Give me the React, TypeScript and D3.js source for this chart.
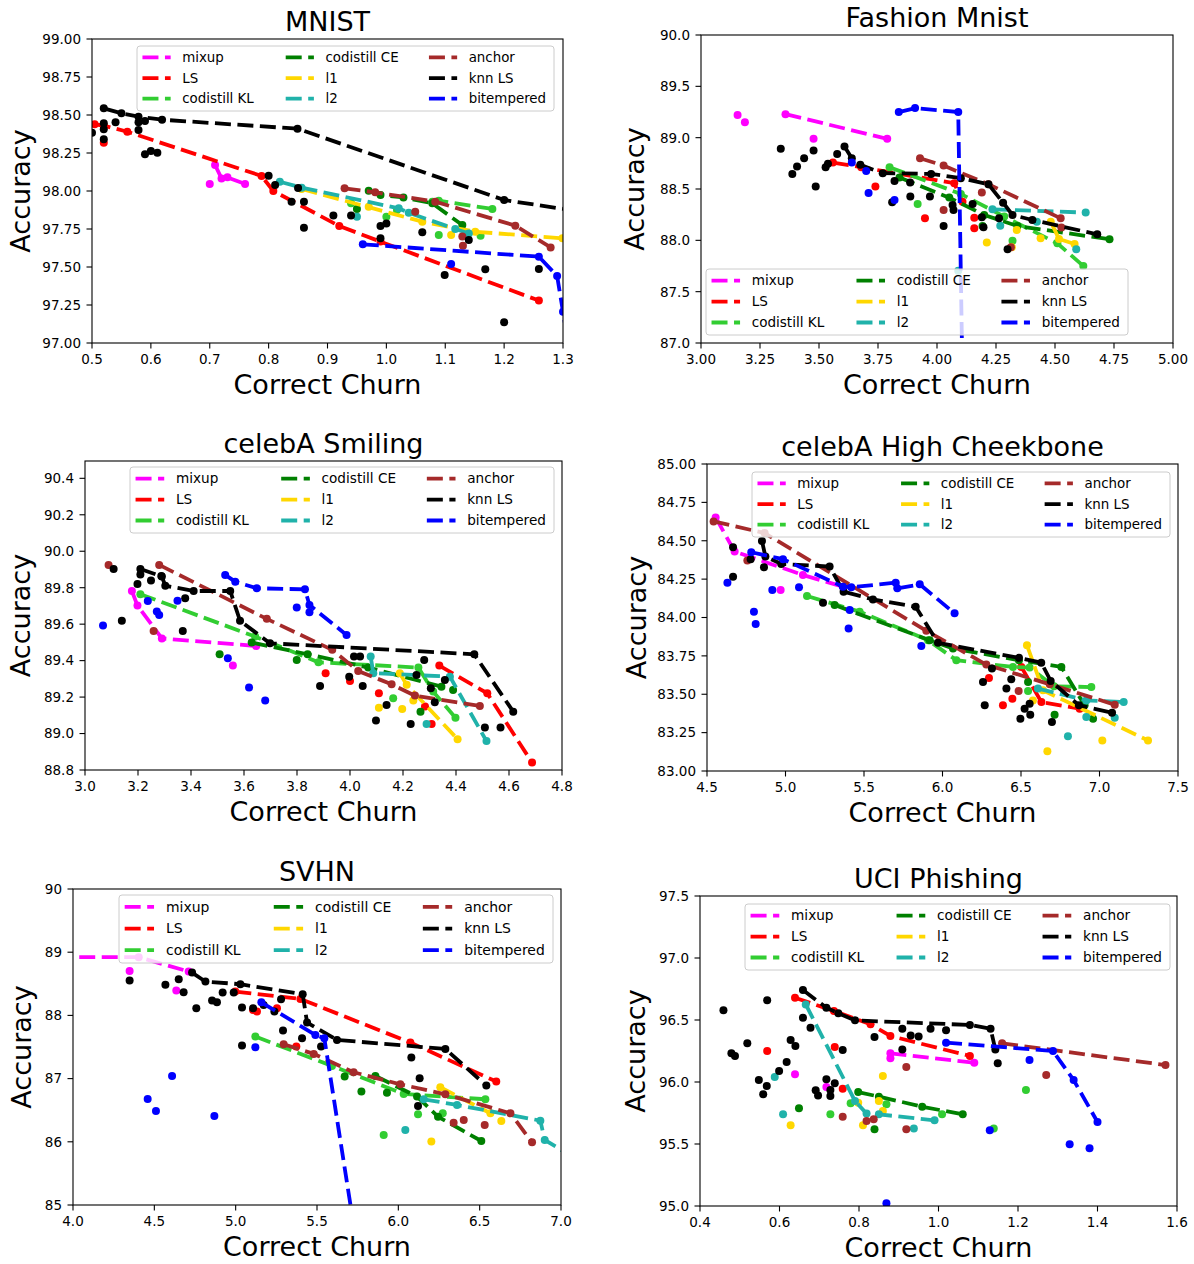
import React from "react"
import * as d3 from "d3"

type Pt = [number, number]
type Series = [string, Pt[]]

// legend order (column-major, 3 rows) and matplotlib named colours
const METHODS = ["mixup", "LS", "codistill KL", "codistill CE", "l1", "l2", "anchor", "knn LS", "bitempered"]
const COLORS = ["#ff00ff", "#ff0000", "#32cd32", "#008000", "#ffd700", "#20b2aa", "#a52a2a", "#000000", "#0000ff"]

// ---------------- MNIST ----------------
const mnistLines: Series[] = [
  ["mixup", [[0.709, 98.171], [0.72, 98.083], [0.73, 98.09], [0.76, 98.046]]],
  ["LS", [[0.5045, 98.439], [0.52, 98.43], [0.56, 98.39], [0.788, 98.099], [0.808, 98.0], [0.92, 97.77], [0.99, 97.667], [1.259, 97.279]]],
  ["codistill KL", [[1.078, 97.93], [1.089, 97.936], [1.18, 97.882]]],
  ["codistill CE", [[0.97, 98.002], [0.99, 97.974], [1.029, 97.958], [1.078, 97.919], [1.129, 97.776]]],
  ["l1", [[0.856, 98.013], [1.061, 97.798], [1.151, 97.732], [1.299, 97.689]]],
  ["l2", [[0.819, 98.061], [0.856, 98.022], [1.021, 97.886], [1.038, 97.857], [1.117, 97.75], [1.14, 97.721]]],
  ["anchor", [[0.929, 98.018], [0.981, 97.991], [1.083, 97.93], [1.219, 97.772], [1.279, 97.629]]],
  ["knn LS", [[0.52, 98.544], [0.55, 98.511], [0.579, 98.489], [0.619, 98.469], [0.849, 98.41], [1.2, 97.941], [1.33, 97.865]]],
  ["bitempered", [[0.96, 97.649], [1.259, 97.568], [1.29, 97.441], [1.3, 97.206], [1.31, 96.97]]],
]
const mnistDots: Series[] = [
  ["mixup", [[0.7, 98.046]]],
  ["LS", [[0.52, 98.318]]],
  ["codistill KL", [[0.94, 97.919], [1.0, 97.831], [1.018, 97.875], [1.089, 97.711], [1.16, 97.706]]],
  ["codistill CE", [[0.95, 97.882]]],
  ["l1", [[0.97, 97.897], [1.11, 97.711]]],
  ["l2", [[0.95, 97.831]]],
  ["anchor", [[1.129, 97.7], [1.13, 97.64], [1.049, 97.864]]],
  ["knn LS", [[0.5, 98.384], [0.52, 98.445], [0.52, 98.406], [0.52, 98.34], [0.54, 98.452], [0.579, 98.452], [0.579, 98.401],
    [0.59, 98.461], [0.59, 98.241], [0.6, 98.263], [0.611, 98.252], [0.8, 98.101], [0.811, 98.039], [0.85, 98.02], [0.839, 97.93],
    [0.86, 97.93], [0.86, 97.759], [0.91, 97.838], [0.94, 97.838], [0.99, 97.77], [1.0, 97.787], [0.99, 97.689], [1.061, 97.728],
    [1.099, 97.447], [1.168, 97.485], [1.14, 97.678], [1.2, 97.136], [1.259, 97.487]]],
  ["bitempered", [[1.11, 97.52]]],
]

// ---------------- Fashion Mnist ----------------
const fashionLines: Series[] = [
  ["mixup", [[3.358, 89.229], [3.789, 88.989]]],
  ["LS", [[3.559, 88.758], [3.679, 88.712], [4.073, 88.556], [4.108, 88.377]]],
  ["codistill KL", [[3.799, 88.712], [4.101, 88.452], [4.285, 88.231], [4.51, 87.971], [4.62, 87.75]]],
  ["codistill CE", [[3.841, 88.611], [4.052, 88.416], [4.2, 88.247], [4.341, 88.14], [4.731, 88.01]]],
  ["l1", [[4.482, 88.182], [4.517, 88.013], [4.583, 87.964]]],
  ["l2", [[4.235, 88.302], [4.63, 88.27]]],
  ["anchor", [[3.928, 88.8], [4.028, 88.728], [4.218, 88.546], [4.524, 88.215]]],
  ["knn LS", [[3.608, 88.914], [3.639, 88.8], [3.675, 88.735], [3.77, 88.654], [3.975, 88.647], [4.101, 88.605], [4.218, 88.546],
    [4.28, 88.367], [4.32, 88.247], [4.404, 88.198], [4.679, 88.059]]],
  ["bitempered", [[3.838, 89.249], [3.907, 89.288], [4.09, 89.249], [4.107, 86.8]]],
]
const fashionDots: Series[] = [
  ["mixup", [[3.155, 89.22], [3.186, 89.151], [3.477, 88.989]]],
  ["LS", [[3.739, 88.524], [3.949, 88.215], [4.158, 88.221], [4.158, 88.117]]],
  ["codistill KL", [[3.918, 88.354], [4.32, 87.997]]],
  ["codistill CE", [[4.193, 88.14]]],
  ["l1", [[4.211, 87.98], [4.338, 88.101], [4.439, 88.02], [4.317, 87.932]]],
  ["l2", [[4.268, 88.143], [4.423, 88.182], [4.59, 87.912], [4.09, 87.704]]],
  ["anchor", [[4.19, 88.465], [4.028, 88.296], [4.527, 88.124], [4.313, 87.932]]],
  ["knn LS", [[3.338, 88.891], [3.387, 88.647], [3.407, 88.719], [3.437, 88.8], [3.477, 88.875], [3.486, 88.524], [3.528, 88.712],
    [3.538, 88.745], [3.577, 88.842], [3.81, 88.371], [3.82, 88.579], [3.887, 88.426], [3.97, 88.426], [3.886, 88.563],
    [4.028, 88.14], [4.07, 88.296], [4.066, 88.345], [4.151, 88.354], [4.19, 88.224], [4.197, 88.127], [4.299, 87.912], [4.263, 88.215]]],
  ["bitempered", [[3.639, 88.758], [3.7, 88.676], [3.71, 88.462], [3.82, 88.393]]],
]

// ---------------- celebA Smiling ----------------
const smilingLines: Series[] = [
  ["mixup", [[3.177, 89.782], [3.198, 89.702], [3.29, 89.522], [3.646, 89.48]]],
  ["LS", [[4.337, 89.373], [4.518, 89.221], [4.687, 88.841]]],
  ["codistill KL", [[3.209, 89.764], [3.642, 89.532], [3.881, 89.391], [4.258, 89.362], [4.314, 89.23], [4.398, 89.087]]],
  ["codistill CE", [[3.629, 89.499], [3.84, 89.435], [4.069, 89.362], [4.345, 89.257]]],
  ["l1", [[4.188, 89.331], [4.214, 89.267], [4.406, 88.969]]],
  ["l2", [[4.078, 89.422], [4.088, 89.331], [4.377, 89.312], [4.515, 88.959]]],
  ["anchor", [[3.28, 89.925], [3.686, 89.629], [3.933, 89.459], [4.031, 89.343], [4.157, 89.27], [4.245, 89.208], [4.49, 89.151]]],
  ["knn LS", [[3.209, 89.903], [3.29, 89.861], [3.303, 89.811], [3.41, 89.782], [3.548, 89.782], [3.585, 89.619], [3.698, 89.495],
    [4.469, 89.435], [4.616, 89.12]]],
  ["bitempered", [[3.529, 89.87], [3.567, 89.833], [3.648, 89.797], [3.83, 89.791], [3.847, 89.705], [3.987, 89.541]]],
]
const smilingDots: Series[] = [
  ["mixup", [[3.558, 89.373]]],
  ["LS", [[3.908, 89.331], [4.0, 89.288], [4.109, 89.221], [4.283, 89.148], [4.308, 89.053]]],
  ["codistill KL", [[4.163, 89.193]]],
  ["codistill CE", [[3.508, 89.435], [3.799, 89.404], [4.389, 89.239], [4.266, 89.12]]],
  ["l1", [[4.109, 89.142], [4.197, 89.135], [4.239, 89.181]]],
  ["l2", [[4.289, 89.053]]],
  ["anchor", [[3.089, 89.925], [3.259, 89.563]]],
  ["knn LS", [[3.108, 89.903], [3.139, 89.619], [3.198, 89.82], [3.209, 89.873], [3.249, 89.839], [3.288, 89.864], [3.378, 89.742],
    [3.369, 89.563], [3.887, 89.261], [3.997, 89.312], [4.015, 89.422], [4.038, 89.422], [4.048, 89.261], [4.098, 89.071],
    [4.138, 89.157], [4.229, 89.053], [4.28, 89.404], [4.251, 89.321], [4.305, 89.248], [4.32, 89.171], [4.358, 89.294],
    [4.509, 89.033], [4.568, 89.033]]],
  ["bitempered", [[3.068, 89.592], [3.237, 89.727], [3.271, 89.669], [3.28, 89.65], [3.349, 89.729], [3.539, 89.413], [3.619, 89.252],
    [3.68, 89.181], [3.799, 89.692], [3.847, 89.665]]],
]

// ---------------- celebA High Cheekbone ----------------
const cheekLines: Series[] = [
  ["mixup", [[4.555, 84.652], [4.676, 84.43], [5.111, 84.277], [5.366, 84.201]]],
  ["LS", [[6.502, 83.678], [6.63, 83.449], [6.874, 83.406]]],
  ["codistill KL", [[5.137, 84.14], [5.472, 84.038], [5.908, 83.852], [6.088, 83.722], [6.449, 83.678], [6.555, 83.674], [6.71, 83.552], [6.948, 83.547]]],
  ["codistill CE", [[5.313, 84.081], [5.918, 83.852], [6.067, 83.798], [6.487, 83.722], [6.757, 83.678], [6.905, 83.428]]],
  ["l1", [[6.538, 83.82], [6.64, 83.526], [7.309, 83.199]]],
  ["l2", [[6.608, 83.537], [6.916, 83.46], [7.154, 83.449]]],
  ["anchor", [[4.542, 84.626], [4.867, 84.55], [5.897, 83.913], [6.279, 83.693], [6.683, 83.565], [7.097, 83.432]]],
  ["knn LS", [[4.85, 84.499], [4.872, 84.397], [4.973, 84.349], [5.281, 84.332], [5.37, 84.168], [5.557, 84.118], [5.829, 84.07],
    [5.971, 83.835], [6.487, 83.737], [6.629, 83.706], [6.689, 83.587], [6.869, 83.428], [7.08, 83.38]]],
  ["bitempered", [[4.782, 84.425], [4.984, 84.38], [5.366, 84.201], [5.419, 84.197], [5.702, 84.227], [5.712, 84.19], [5.855, 84.216], [6.077, 84.027]]],
]
const cheekDots: Series[] = [
  ["mixup", [[4.969, 84.179]]],
  ["LS", [[6.296, 83.606], [6.385, 83.428], [6.445, 83.471]]],
  ["codistill KL", [[6.545, 83.521]]],
  ["codistill CE", [[6.545, 83.58], [6.714, 83.367], [6.959, 83.34]]],
  ["l1", [[6.576, 83.46], [6.668, 83.129], [7.018, 83.199]]],
  ["l2", [[6.799, 83.227], [6.916, 83.351], [7.097, 83.347]]],
  ["anchor", [[4.757, 84.371], [6.485, 83.521]]],
  ["knn LS", [[4.666, 84.266], [4.666, 84.458], [4.778, 84.38], [4.863, 84.327], [5.239, 84.096], [6.258, 83.58], [6.269, 83.428],
    [6.315, 83.667], [6.407, 83.537], [6.438, 83.598], [6.496, 83.34], [6.523, 83.406], [6.555, 83.438], [6.559, 83.367], [6.697, 83.319]]],
  ["bitempered", [[4.63, 84.227], [4.799, 84.038], [4.81, 83.957], [4.916, 84.179], [5.086, 84.197], [5.402, 83.929], [5.865, 83.815], [5.409, 84.049]]],
]

// ---------------- SVHN ----------------
const svhnLines: Series[] = [
  ["mixup", [[3.9, 88.921], [4.404, 88.921], [4.711, 88.694]]],
  ["LS", [[4.998, 88.377], [5.398, 88.261], [6.074, 87.57], [6.602, 86.953]]],
  ["codistill KL", [[5.121, 87.665], [5.592, 87.201], [6.033, 86.757], [6.535, 86.673]]],
  ["codistill CE", [[5.859, 87.042], [6.115, 86.715], [6.244, 86.398], [6.51, 86.013]]],
  ["l1", [[6.258, 86.863], [6.566, 86.451]]],
  ["l2", [[6.156, 86.673], [6.361, 86.583], [6.873, 86.335], [6.9, 86.029], [7.06, 85.78]]],
  ["anchor", [[5.295, 87.544], [5.48, 87.391], [5.725, 87.1], [6.012, 86.91], [6.289, 86.752], [6.689, 86.451], [6.822, 85.992]]],
  ["knn LS", [[4.732, 88.678], [4.814, 88.536], [5.029, 88.493], [5.412, 88.335], [5.439, 87.887], [5.623, 87.612], [6.289, 87.47], [6.541, 86.889]]],
  ["bitempered", [[5.158, 88.208], [5.49, 87.691], [5.545, 87.639], [5.715, 84.85]]],
]
const svhnDots: Series[] = [
  ["mixup", [[4.348, 88.704], [4.635, 88.393]]],
  ["LS", [[5.107, 88.087], [5.131, 88.061], [5.254, 88.113], [5.373, 87.507]]],
  ["codistill KL", [[5.91, 86.108], [6.121, 86.435], [6.273, 86.451]]],
  ["codistill CE", [[5.67, 87.032], [5.773, 86.794], [5.93, 86.778]]],
  ["l1", [[6.203, 86.003], [6.633, 86.33]]],
  ["l2", [[6.043, 86.187]]],
  ["anchor", [[6.34, 86.303], [6.402, 86.346], [6.531, 86.266]]],
  ["knn LS", [[4.348, 88.551], [4.568, 88.483], [4.65, 88.573], [4.68, 88.367], [4.758, 88.113], [4.855, 88.235], [4.885, 88.208],
    [4.92, 88.361], [4.988, 88.361], [5.039, 88.124], [5.039, 87.522], [5.107, 88.113], [5.238, 88.061], [5.279, 88.256],
    [5.291, 87.76], [5.408, 87.639], [5.525, 87.507], [6.08, 87.332], [6.131, 87.005], [6.121, 86.567], [5.172, 88.166]]],
  ["bitempered", [[5.121, 87.496], [4.609, 87.042], [4.459, 86.678], [4.51, 86.488], [4.869, 86.409]]],
]

// ---------------- UCI Phishing ----------------
const uciLines: Series[] = [
  ["mixup", [[0.879, 96.231], [1.09, 96.156]]],
  ["LS", [[0.639, 96.68], [0.737, 96.573], [0.829, 96.465], [0.879, 96.371], [1.079, 96.21]]],
  ["codistill CE", [[0.798, 95.919], [0.85, 95.882], [0.959, 95.801], [1.061, 95.739]]],
  ["l2", [[0.666, 96.626], [0.79, 95.847], [0.819, 95.745], [0.85, 95.739], [0.99, 95.691]]],
  ["anchor", [[1.16, 96.312], [1.571, 96.137]]],
  ["knn LS", [[0.659, 96.742], [0.718, 96.599], [0.748, 96.554], [0.79, 96.497], [1.079, 96.46], [1.131, 96.43], [1.143, 96.263]]],
  ["bitempered", [[1.019, 96.317], [1.288, 96.25], [1.34, 96.016], [1.4, 95.677]]],
]
const uciDots: Series[] = [
  ["mixup", [[0.879, 96.191], [0.639, 96.062], [0.718, 95.96]]],
  ["LS", [[0.569, 96.25], [0.739, 96.282], [0.759, 95.946]]],
  ["codistill KL", [[0.728, 95.739], [0.779, 95.828], [0.869, 95.82], [1.009, 95.739], [1.139, 95.624], [1.22, 95.935]]],
  ["codistill CE", [[0.649, 95.788], [0.839, 95.618]]],
  ["l1", [[0.628, 95.651], [0.798, 95.833], [0.81, 95.651], [0.85, 95.847], [0.86, 95.766], [0.86, 96.048]]],
  ["l2", [[0.588, 96.04], [0.609, 95.739], [0.938, 95.626]]],
  ["anchor", [[0.919, 96.121], [1.271, 96.056], [0.759, 95.72], [0.819, 95.685], [0.837, 95.699], [0.919, 95.618]]],
  ["knn LS", [[0.459, 96.578], [0.479, 96.231], [0.488, 96.21], [0.519, 96.312], [0.548, 96.016], [0.559, 95.901], [0.568, 95.968],
    [0.569, 96.659], [0.599, 96.089], [0.618, 96.161], [0.628, 96.339], [0.64, 96.29], [0.659, 96.519], [0.678, 96.438],
    [0.691, 95.933], [0.697, 95.892], [0.718, 96.022], [0.728, 95.935], [0.728, 95.887], [0.739, 95.989], [0.759, 96.258],
    [0.839, 96.363], [0.909, 96.43], [0.909, 96.263], [0.93, 96.376], [0.95, 96.366], [0.98, 96.43], [1.019, 96.417], [1.149, 96.151]]],
  ["bitempered", [[1.229, 96.177], [1.129, 95.61], [1.33, 95.497], [1.38, 95.465], [0.869, 95.022]]],
]

// tick values
const mnistXTicks = [0.5, 0.6, 0.7, 0.8, 0.9, 1.0, 1.1, 1.2, 1.3]
const mnistYTicks = [97.0, 97.25, 97.5, 97.75, 98.0, 98.25, 98.5, 98.75, 99.0]
const fashionXTicks = [3.0, 3.25, 3.5, 3.75, 4.0, 4.25, 4.5, 4.75, 5.0]
const fashionYTicks = [87.0, 87.5, 88.0, 88.5, 89.0, 89.5, 90.0]
const smilingXTicks = [3.0, 3.2, 3.4, 3.6, 3.8, 4.0, 4.2, 4.4, 4.6, 4.8]
const smilingYTicks = [88.8, 89.0, 89.2, 89.4, 89.6, 89.8, 90.0, 90.2, 90.4]
const cheekXTicks = [4.5, 5.0, 5.5, 6.0, 6.5, 7.0, 7.5]
const cheekYTicks = [83.0, 83.25, 83.5, 83.75, 84.0, 84.25, 84.5, 84.75, 85.0]
const svhnXTicks = [4.0, 4.5, 5.0, 5.5, 6.0, 6.5, 7.0]
const svhnYTicks = [85, 86, 87, 88, 89, 90]
const uciXTicks = [0.4, 0.6, 0.8, 1.0, 1.2, 1.4, 1.6]
const uciYTicks = [95.0, 95.5, 96.0, 96.5, 97.0, 97.5]

const FONT = "DejaVu Sans, sans-serif"

const panels = [
  { id: "mnist", title: "MNIST", box: [92, 39, 563, 343], xd: [0.5, 1.3], yd: [97, 99], xt: mnistXTicks, yt: mnistYTicks,
    xf: ".1f", yf: ".2f", leg: [137, 46, 417, 65], yl: -62, lines: mnistLines, dots: mnistDots },
  { id: "fashion", title: "Fashion Mnist", box: [701, 35, 1173, 343], xd: [3, 5], yd: [87, 90], xt: fashionXTicks, yt: fashionYTicks,
    xf: ".2f", yf: ".1f", leg: [706, 269, 422, 66], yl: -57, lines: fashionLines, dots: fashionDots },
  { id: "smiling", title: "celebA Smiling", box: [85, 461, 562, 770], xd: [3.0, 4.8], yd: [88.8, 90.495], xt: smilingXTicks, yt: smilingYTicks,
    xf: ".1f", yf: ".1f", leg: [130, 467, 424, 66], yl: -55, lines: smilingLines, dots: smilingDots },
  { id: "cheek", title: "celebA High Cheekbone", box: [707, 464, 1178, 771], xd: [4.5, 7.5], yd: [83, 85], xt: cheekXTicks, yt: cheekYTicks,
    xf: ".1f", yf: ".2f", leg: [752, 472, 418, 65], yl: -61, lines: cheekLines, dots: cheekDots },
  { id: "svhn", title: "SVHN", box: [73, 889, 561, 1205], xd: [4, 7], yd: [85, 90], xt: svhnXTicks, yt: svhnYTicks,
    xf: ".1f", yf: "d", leg: [119, 895, 434, 68], yl: -42, lines: svhnLines, dots: svhnDots },
  { id: "uci", title: "UCI Phishing", box: [700, 896, 1177, 1206], xd: [0.4, 1.6], yd: [95, 97.5], xt: uciXTicks, yt: uciYTicks,
    xf: ".1f", yf: ".1f", leg: [745, 904, 425, 66], yl: -55, lines: uciLines, dots: uciDots },
]

const DASH = "16 6.5"
const LW = 3.8
const R = 4

function Panel({ p }: { p: any }) {
  const [l, t, r, b] = p.box
  const x = d3.scaleLinear().domain(p.xd).range([l, r])
  const y = d3.scaleLinear().domain(p.yd).range([b, t])
  const line = d3.line<Pt>().x(d => x(d[0])).y(d => y(d[1]))
  const xfmt = d3.format(p.xf)
  const yfmt = d3.format(p.yf)
  const [lx, ly, lw, lh] = p.leg
  const sw = lw / 420
  const sh = lh / 65.5
  const clip = `clip-${p.id}`

  return (
    <g>
      <defs>
        <clipPath id={clip}>
          <rect x={l} y={t} width={r - l} height={b - t} />
        </clipPath>
      </defs>
      <g clipPath={`url(#${clip})`}>
        {METHODS.map((m, mi) => {
          const ls = p.lines.filter((s: Series) => s[0] === m)
          const ds = p.dots.filter((s: Series) => s[0] === m)
          return (
            <g key={m}>
              {ls.map((s: Series, i: number) => (
                <g key={"l" + i}>
                  <path d={line(s[1]) || ""} fill="none" stroke={COLORS[mi]} strokeWidth={LW} strokeDasharray={DASH} />
                  {s[1].map((d, j) => <circle key={j} cx={x(d[0])} cy={y(d[1])} r={R} fill={COLORS[mi]} />)}
                </g>
              ))}
              {ds.map((s: Series, i: number) => (
                <g key={"d" + i}>
                  {s[1].map((d, j) => <circle key={j} cx={x(d[0])} cy={y(d[1])} r={R} fill={COLORS[mi]} />)}
                </g>
              ))}
            </g>
          )
        })}
      </g>
      {/* spines */}
      <rect x={l} y={t} width={r - l} height={b - t} fill="none" stroke="#000" strokeWidth={1.1} />
      {p.xt.map((v: number) => (
        <g key={"xt" + v}>
          <line x1={x(v)} x2={x(v)} y1={b} y2={b + 5.5} stroke="#000" strokeWidth={1.1} />
          <text x={x(v)} y={b + 21} textAnchor="middle" fontSize={13.5} fontFamily={FONT}>{xfmt(v)}</text>
        </g>
      ))}
      {p.yt.map((v: number) => (
        <g key={"yt" + v}>
          <line x1={l - 5.5} x2={l} y1={y(v)} y2={y(v)} stroke="#000" strokeWidth={1.1} />
          <text x={l - 11} y={y(v)} dy="0.36em" textAnchor="end" fontSize={13.5} fontFamily={FONT}>{yfmt(v)}</text>
        </g>
      ))}
      <text x={(l + r) / 2} y={t - 8} textAnchor="middle" fontSize={27} fontFamily={FONT}>{p.title}</text>
      <text x={(l + r) / 2} y={b + 51} textAnchor="middle" fontSize={27} fontFamily={FONT}>Correct Churn</text>
      <text transform={`translate(${l + p.yl},${(t + b) / 2}) rotate(-90)`} textAnchor="middle" fontSize={27} fontFamily={FONT}>Accuracy</text>
      {/* legend */}
      <g>
        <rect x={lx} y={ly} width={lw} height={lh} rx={3} fill="#fff" fillOpacity={0.8} stroke="#cccccc" strokeWidth={1} />
        {METHODS.map((m, mi) => {
          const col = Math.floor(mi / 3)
          const row = mi % 3
          const hx = lx + 5.5 * sw + col * 0.3435 * lw
          const cy = ly + 11.5 * sh + row * 20.8 * sh
          return (
            <g key={m}>
              <line x1={hx} x2={hx + 28.4 * sw} y1={cy} y2={cy} stroke={COLORS[mi]} strokeWidth={LW} strokeDasharray={DASH} />
              <text x={hx + 40 * sw} y={cy} dy="0.35em" fontSize={13.5 * sw} fontFamily={FONT}>{m}</text>
            </g>
          )
        })}
      </g>
    </g>
  )
}

export default function App() {
  return (
    <div style={{ position: "absolute", left: 0, top: 0 }}>
      <svg width={1194} height={1264} style={{ display: "block", background: "#fff" }}>
        {panels.map(p => <Panel key={p.id} p={p} />)}
      </svg>
    </div>
  )
}
